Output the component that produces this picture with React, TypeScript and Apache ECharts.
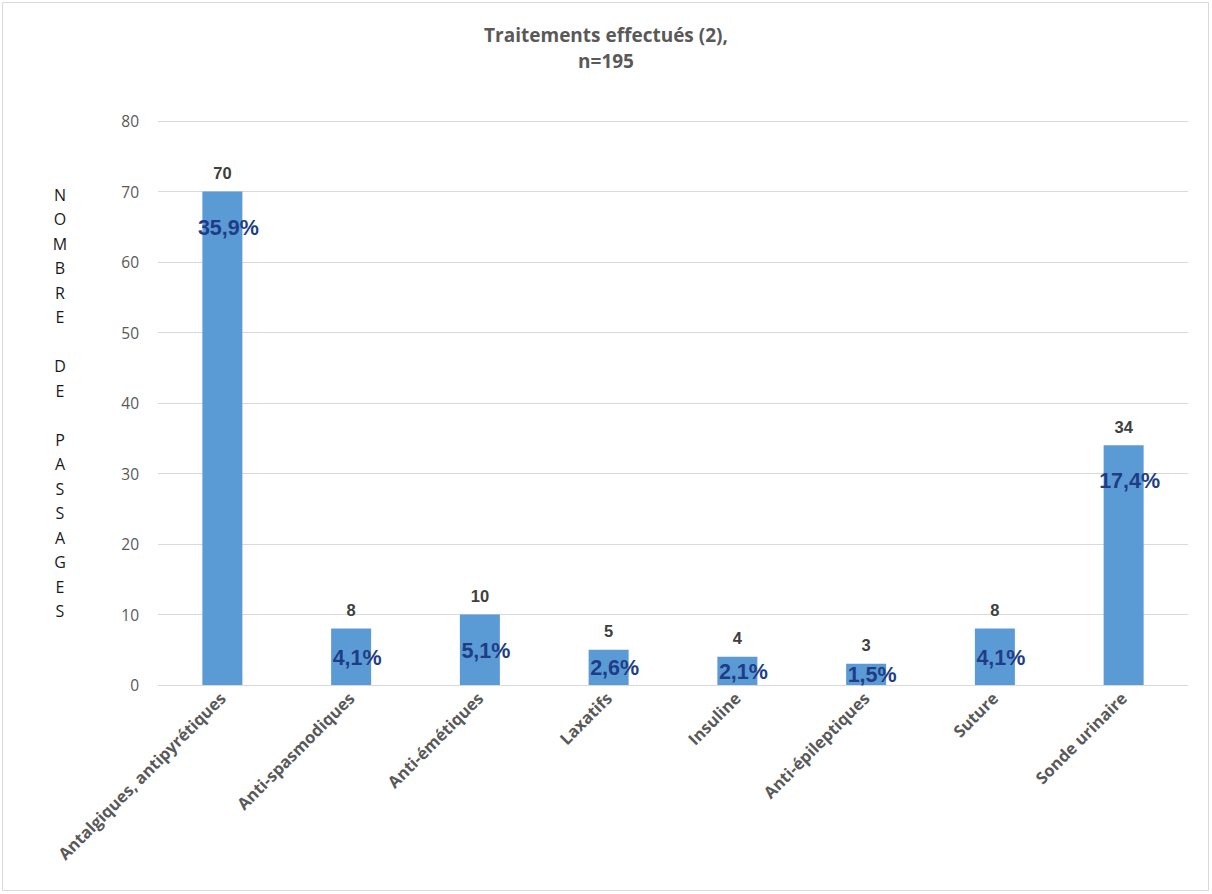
import React, { useEffect, useRef } from "react";
import * as echarts from "echarts";

const categories = [
  "Antalgiques, antipyrétiques",
  "Anti-spasmodiques",
  "Anti-émétiques",
  "Laxatifs",
  "Insuline",
  "Anti-épileptiques",
  "Suture",
  "Sonde urinaire",
];
const counts = [70, 8, 10, 5, 4, 3, 8, 34];
const percents = ["35,9%", "4,1%", "5,1%", "2,6%", "2,1%", "1,5%", "4,1%", "17,4%"];
const titleText = "Traitements effectués (2),\nn=195";
const yAxisName = "NOMBRE DE PASSAGES";
const yTicks = { min: 0, max: 80, interval: 10 };

export default function App() {
  const ref = useRef<HTMLDivElement>(null);
  useEffect(() => {
    if (!ref.current) return;
    const chart = echarts.init(ref.current, null, { renderer: "svg" });
    const verticalName = yAxisName.split("").map((c) => (c === " " ? "" : c)).join("\n");
    chart.setOption({
      animation: false,
      backgroundColor: "#ffffff",
      title: {
        text: titleText,
        left: "center",
        top: 17,
        textStyle: {
          fontFamily: "Open Sans",
          fontWeight: "bold",
          fontSize: 19,
          color: "#595959",
          lineHeight: 26,
        },
      },
      graphic: [
        {
          type: "rect",
          shape: { x: 2.5, y: 2.5, width: 1206, height: 888 },
          style: { fill: "none", stroke: "#d9d9d9", lineWidth: 1 },
          silent: true,
        },
      ],
      grid: { left: 158, right: 24, top: 121, bottom: 209 },
      xAxis: {
        type: "category",
        data: categories,
        axisLine: { show: true, lineStyle: { color: "#d9d9d9" } },
        axisTick: { show: false },
        axisLabel: {
          rotate: 45,
          interval: 0,
          margin: 10,
          fontFamily: "Open Sans",
          fontWeight: "bold",
          fontSize: 16.5,
          color: "#595959",
        },
      },
      yAxis: {
        type: "value",
        min: yTicks.min,
        max: yTicks.max,
        interval: yTicks.interval,
        name: verticalName,
        nameLocation: "middle",
        nameRotate: 0,
        nameGap: 98,
        nameTextStyle: {
          fontFamily: "Open Sans",
          fontSize: 16,
          color: "#1a1a1a",
          lineHeight: 24.5,
          align: "center",
          verticalAlign: "middle",
        },
        axisLine: { show: false },
        axisTick: { show: false },
        splitLine: { lineStyle: { color: "#d9d9d9" } },
        axisLabel: {
          fontFamily: "Open Sans",
          fontSize: 15.5,
          color: "#595959",
          margin: 19,
        },
      },
      series: [
        {
          type: "bar",
          data: counts,
          barWidth: 40,
          itemStyle: { color: "#5b9bd5" },
          label: {
            show: true,
            position: "top",
            distance: 10,
            fontFamily: "Liberation Sans",
            fontWeight: "bold",
            fontSize: 16.5,
            color: "#404040",
          },
        },
        {
          type: "bar",
          barGap: "-100%",
          barWidth: 40,
          data: counts.map((v, i) => ({
            value: v,
            label: {
              position: v > 20 ? "insideTop" : "inside",
              distance: v > 20 ? 24 : 5,
              formatter: percents[i],
            },
          })),
          itemStyle: { color: "rgba(0,0,0,0)" },
          label: {
            show: true,
            offset: [6, 1],
            fontFamily: "Liberation Sans",
            fontWeight: "bold",
            fontSize: 21.5,
            color: "#1f3d87",
          },
          z: 3,
        },
      ],
    });
    return () => chart.dispose();
  }, []);
  return (
    <div
      ref={ref}
      style={{ position: "absolute", left: 0, top: 0, width: 1212, height: 894 }}
    />
  );
}
